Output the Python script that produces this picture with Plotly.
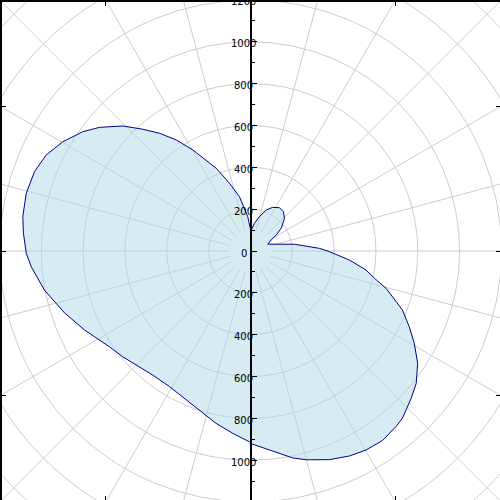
import numpy as np
import plotly.graph_objects as go

# Curve samples (angle in degrees, radius in data units)
theta_deg = [-90.3, -84.5, -78.5, -75.0, -69.3, -64.2, -59.8, -55.1, -50.3, -47.7,
             -42.5, -38.6, -33.9, -29.4, -25.5, -21.2, -19.2, -15.4, -12.4, -9.3,
             -5.2, -0.5, 2.2, 8.7, 21.5, 28.0, 31.9, 36.5, 43.9, 50.0,
             56.2, 63.0, 69.0, 75.3, 81.8, 88.0, 90.0, 94.5, 101.5, 107.2,
             112.5, 116.0, 119.7, 123.8, 127.7, 131.5, 135.6, 140.7, 144.6, 149.8,
             154.8, 159.8, 165.6, 171.4, 175.5, 180.6, 184.1, 190.7, 198.4, 205.4,
             210.5, 214.2, 219.6, 224.9, 231.8, 239.2, 246.7, 253.6, 258.7, 264.5,
             269.7]
radius = [918, 956, 1009, 1033, 1066, 1088, 1100, 1104, 1090, 1080,
          1042, 1014, 963, 899, 841, 779, 736, 673, 607, 559,
          475, 378, 330, 213, 89, 112, 145, 183, 226, 245,
          249, 234, 210, 170, 134, 100, 103, 164, 265, 339,
          428, 484, 556, 639, 711, 777, 854, 933, 984, 1038,
          1079, 1100, 1107, 1101, 1089, 1072, 1051, 1003, 937, 879,
          838, 815, 793, 772, 755, 755, 776, 809, 840, 876,
          912]

radial_ticks = [-1200, -1000, -800, -600, -400, -200, 0, 200, 400, 600, 800, 1000, 1200]
radial_labels = ["1200", "1000", "800", "600", "400", "200", "0", "200", "400", "600", "800", "1000", "1200"]
grid_radii = [200, 400, 600, 800, 1000, 1200, 1400, 1600]
spoke_angles = list(range(0, 360, 15))
frame_ticks = [-692.8, 0, 692.8]

GRID = "#cccccc"

th = np.deg2rad(np.array(theta_deg))
r = np.array(radius, dtype=float)
xs = r * np.cos(th)
ys = r * np.sin(th)

XR = [-1188, 1193]
YR = [-1190, 1190]

shapes = []
for R in grid_radii:
    shapes.append(dict(type="circle", xref="x", yref="y", x0=-R, y0=-R, x1=R, y1=R,
                       line=dict(color=GRID, width=1), layer="below"))
for a in spoke_angles:
    ar = np.deg2rad(a)
    shapes.append(dict(type="line", xref="x", yref="y",
                       x0=100 * np.cos(ar), y0=100 * np.sin(ar),
                       x1=1800 * np.cos(ar), y1=1800 * np.sin(ar),
                       line=dict(color=GRID, width=1), layer="below"))

fig = go.Figure()
fig.add_trace(go.Scatter(x=xs, y=ys, mode="lines", fill="toself",
                         fillcolor="rgba(173,216,230,0.5)",
                         line=dict(color="#00008b", width=1),
                         hoverinfo="skip", showlegend=False))
fig.add_trace(go.Scatter(x=[0], y=[0], yaxis="y2", mode="markers",
                         marker=dict(opacity=0), hoverinfo="skip", showlegend=False))

annotations = []
for v, t in zip(radial_ticks, radial_labels):
    annotations.append(dict(x=0, y=(v - YR[0]) / (YR[1] - YR[0]), xref="x", yref="paper",
                            xanchor="center", yanchor="middle",
                            text=t, showarrow=False, xshift=-6.5, yshift=-2,
                            font=dict(family="DejaVu Sans", size=10, color="#000000")))

fig.update_layout(
    width=500, height=500,
    margin=dict(l=2, t=2, r=0, b=0, pad=0, autoexpand=False),
    paper_bgcolor="white", plot_bgcolor="white",
    showlegend=False,
    shapes=shapes,
    annotations=annotations,
    xaxis=dict(range=XR, showgrid=False, zeroline=False, showline=True, mirror="ticks",
               linecolor="black", linewidth=2, ticks="inside", ticklen=4, tickcolor="black",
               tickmode="array", tickvals=frame_ticks, showticklabels=False, fixedrange=True,
               automargin=False),
    yaxis=dict(range=YR, showgrid=False, zeroline=False, showline=True, mirror="ticks",
               linecolor="black", linewidth=2, ticks="inside", ticklen=4, tickcolor="black",
               tickmode="array", tickvals=frame_ticks, showticklabels=False, fixedrange=True,
               automargin=False),
    yaxis2=dict(range=YR, overlaying="y", anchor="free",
                position=(0 - XR[0]) / (XR[1] - XR[0]), side="right",
                showgrid=False, zeroline=False, showline=True, linecolor="black", linewidth=1.5,
                ticks="outside", ticklen=5, tickcolor="black", tickmode="linear", tick0=0, dtick=200,
                minor=dict(ticks="outside", ticklen=3, tickcolor="black", dtick=100, tick0=0),
                showticklabels=False, fixedrange=True, automargin=False),
)

fig.write_html("out.html", config={"displayModeBar": False, "staticPlot": True},
               post_script="document.body.style.margin='0';document.body.style.padding='0';")
